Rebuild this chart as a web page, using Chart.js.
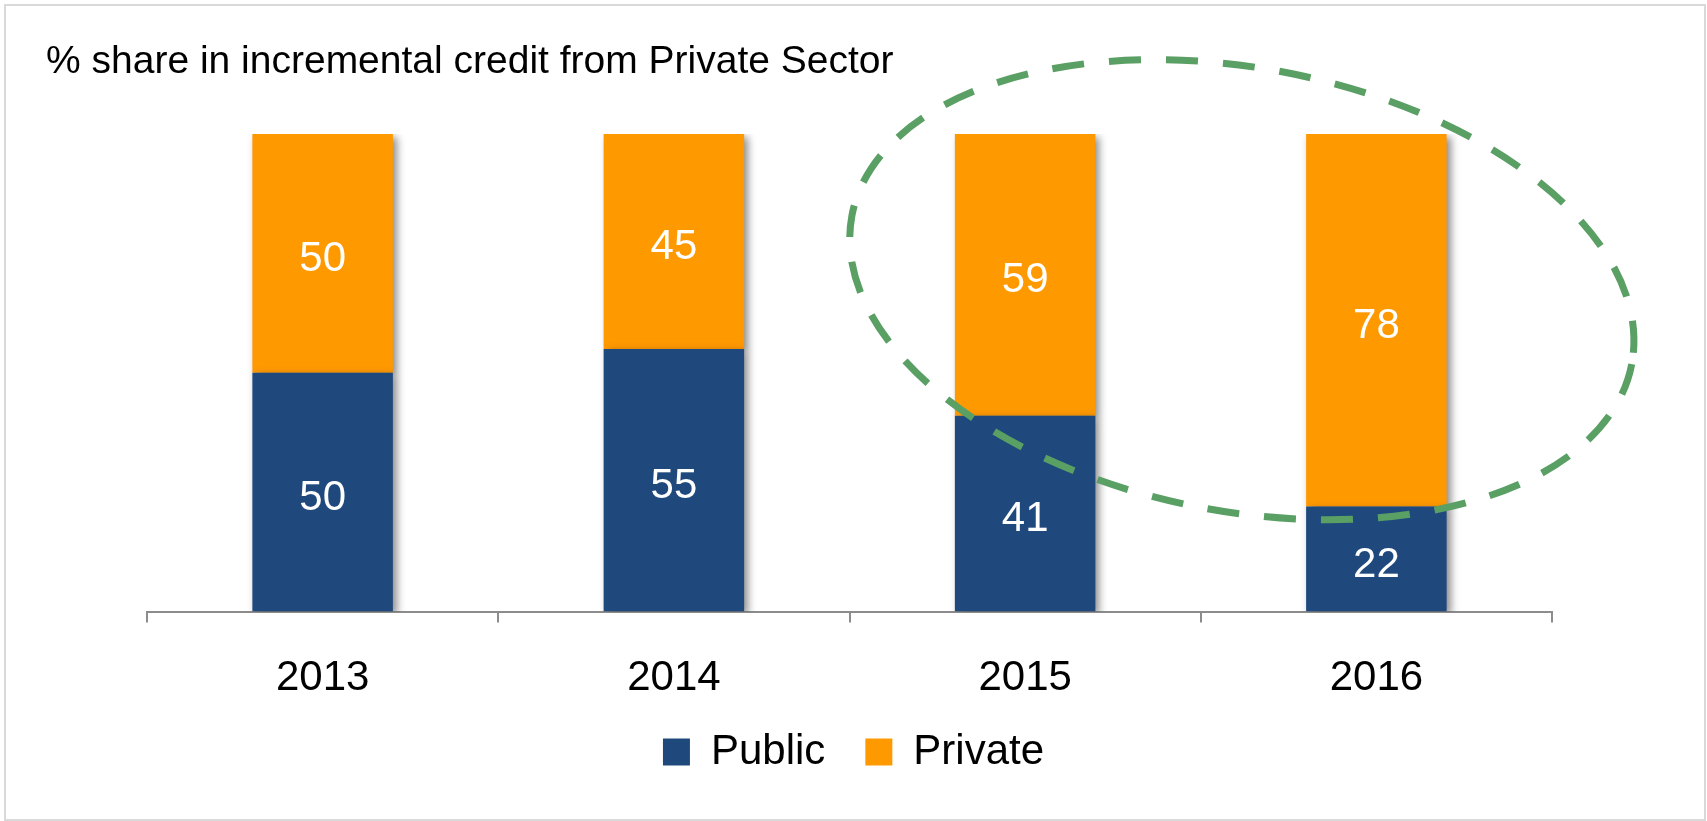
<!doctype html>
<html lang="en">
<head>
	<meta charset="utf-8">
	<title>Incremental credit share</title>
	<script src="https://cdn.jsdelivr.net/npm/chart.js"></script>
	<style>
		html, body { margin: 0; padding: 0; background: #fff; }
		#box { width: 1707px; height: 821px; }
	</style>
</head>
<body>
	<div id="box"><canvas id="myChart" width="1707" height="821"></canvas></div>

	<script>
		// data
		const years = ['2013', '2014', '2015', '2016'];
		const publicShare = [50, 55, 41, 22];
		const privateShare = [50, 45, 59, 78];
		const seriesNames = ['Public', 'Private'];
		const chartTitle = '% share in incremental credit from Private Sector';

		const FONT = "'Liberation Sans', Arial, sans-serif";
		const BLUE = '#1f497d';
		const ORANGE = '#ff9900';

		// light grey frame around the whole picture
		const framePlugin = {
			id: 'frame',
			beforeDraw(chart) {
				const ctx = chart.ctx;
				ctx.save();
				ctx.fillStyle = '#fff';
				ctx.fillRect(0, 0, chart.width, chart.height);
				ctx.strokeStyle = '#d9d9d9';
				ctx.lineWidth = 2;
				ctx.strokeRect(5, 5, chart.width - 7, chart.height - 6);
				ctx.restore();
			}
		};

		// soft drop shadow on the bars
		const shadowPlugin = {
			id: 'barShadow',
			beforeDatasetsDraw(chart) {
				const ctx = chart.ctx;
				ctx.save();
				ctx.shadowColor = 'rgba(0, 0, 0, 0.45)';
				ctx.shadowBlur = 8;
				ctx.shadowOffsetX = 4;
				ctx.shadowOffsetY = 3;
			},
			afterDatasetsDraw(chart) {
				chart.ctx.restore();
			}
		};

		// numbers in the middle of each segment
		const valuePlugin = {
			id: 'values',
			afterDatasetsDraw(chart) {
				const ctx = chart.ctx;
				ctx.save();
				ctx.shadowColor = 'transparent';
				ctx.fillStyle = '#fff';
				ctx.font = '42px ' + FONT;
				ctx.textAlign = 'center';
				ctx.textBaseline = 'middle';
				chart.data.datasets.forEach((ds, i) => {
					chart.getDatasetMeta(i).data.forEach((bar, j) => {
						const p = bar.getCenterPoint();
						ctx.fillText(ds.data[j], p.x, p.y + 6);
					});
				});
				ctx.restore();
			}
		};

		// dashed green ring round 2015-2016
		const ringPlugin = {
			id: 'ring',
			afterDraw(chart) {
				const x = chart.scales.x, y = chart.scales.y;
				const cx = x.getPixelForValue(2.617);
				const cy = y.getPixelForValue(67.4);
				const step = x.getPixelForValue(1) - x.getPixelForValue(0);
				const ctx = chart.ctx;
				ctx.save();
				ctx.strokeStyle = '#5a9f64';
				ctx.lineWidth = 7;
				ctx.setLineDash([32, 25]);
				ctx.beginPath();
				ctx.ellipse(cx, cy, step * 1.13, (y.getPixelForValue(0) - y.getPixelForValue(100)) * 0.464, 10.8 * Math.PI / 180, 0, Math.PI * 2);
				ctx.stroke();
				ctx.restore();
			}
		};

		const ctx = document.getElementById('myChart').getContext('2d');
		const myChart = new Chart(ctx, {
			type: 'bar',
			data: {
				labels: years,
				datasets: [
					{
						label: seriesNames[0],
						data: publicShare,
						backgroundColor: BLUE,
						borderWidth: 0
					},
					{
						label: seriesNames[1],
						data: privateShare,
						backgroundColor: ORANGE,
						borderWidth: 0
					}
				]
			},
			options: {
				responsive: false,
				animation: false,
				categoryPercentage: 1,
				barPercentage: 0.4,
				layout: {
					padding: { top: 39, left: 46, right: 46, bottom: 38 }
				},
				plugins: {
					title: {
						display: true,
						text: chartTitle,
						align: 'start',
						color: '#000',
						font: { family: FONT, size: 39, weight: 'normal', lineHeight: 1.2 },
						padding: { top: 0, bottom: 48.2 }
					},
					legend: {
						position: 'bottom',
						labels: {
							color: '#000',
							font: { family: FONT, size: 42, lineHeight: 1.2 },
							boxWidth: 27,
							boxHeight: 27,
							padding: 40
						}
					},
					tooltip: { enabled: false }
				},
				scales: {
					x: {
						stacked: true,
						grid: {
							drawOnChartArea: false,
							drawTicks: true,
							tickLength: 11,
							color: '#8c8c8c',
							lineWidth: 2
						},
						border: { display: true, color: '#8c8c8c', width: 2 },
						ticks: {
							color: '#000',
							padding: 30.5,
							font: { family: FONT, size: 42, lineHeight: 1.2 }
						},
						// pull the axis down, labels hang lower below it
						afterFit(scale) { scale.height -= 43; }
					},
					y: {
						stacked: true,
						min: 0,
						max: 100,
						grid: { display: false },
						border: { display: false },
						ticks: { display: false },
						afterFit(scale) { scale.width = 101; }
					},
					yRight: {
						type: 'linear',
						position: 'right',
						grid: { display: false },
						border: { display: false },
						ticks: { display: false },
						afterFit(scale) { scale.width = 109; }
					}
				}
			},
			plugins: [framePlugin, shadowPlugin, valuePlugin, ringPlugin]
		});
	</script>
</body>
</html>
